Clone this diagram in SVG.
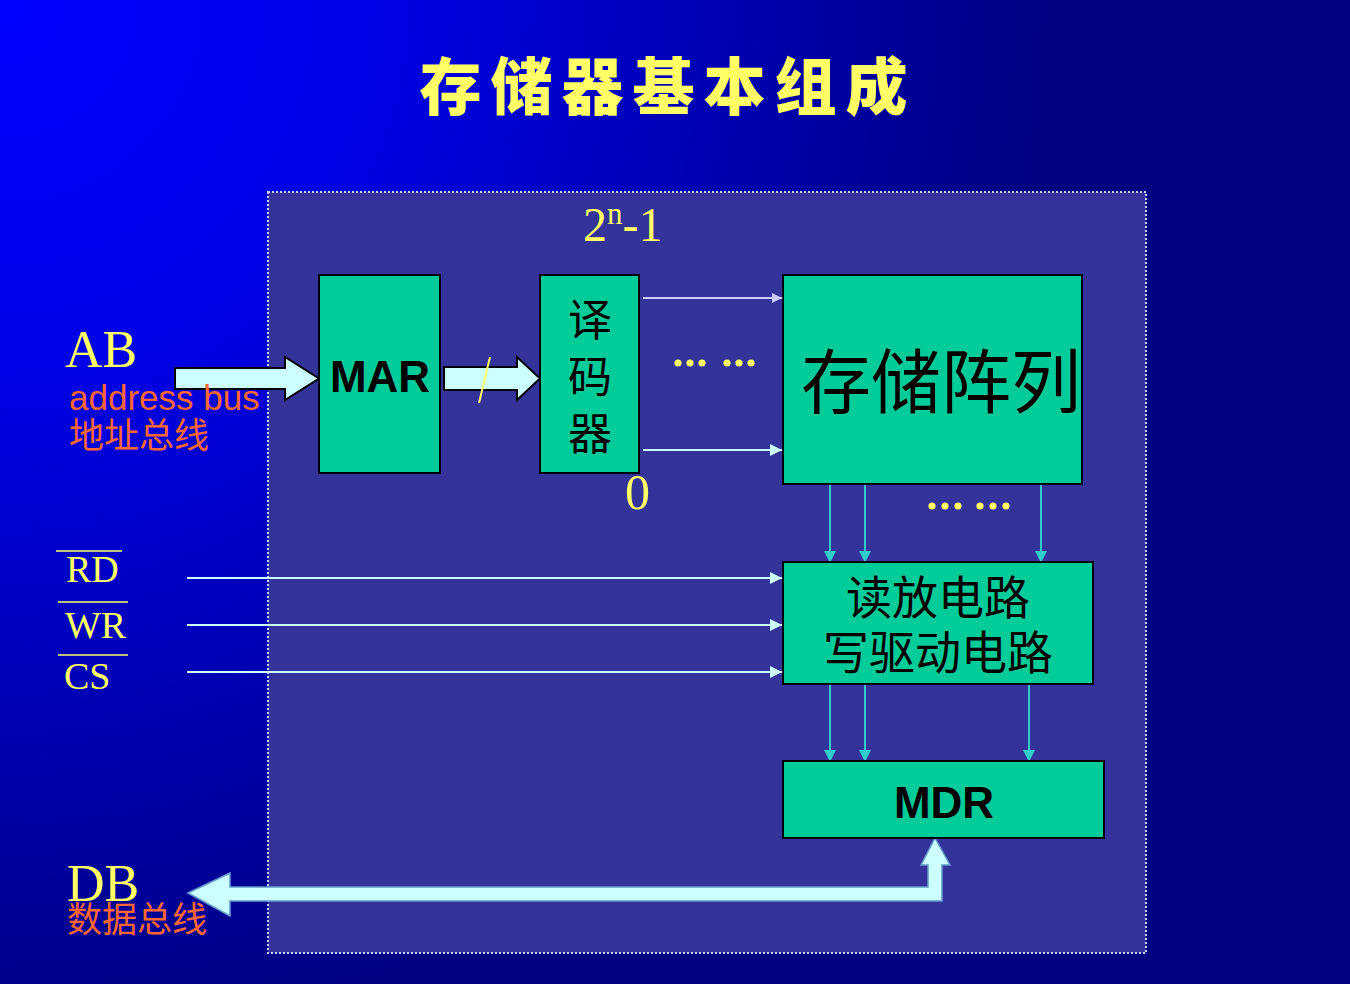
<svg xmlns="http://www.w3.org/2000/svg" width="1350" height="984" viewBox="0 0 1350 984">
<defs>
<radialGradient id="bg" cx="0" cy="0" r="1050" gradientUnits="userSpaceOnUse">
<stop offset="0" stop-color="#0000FF"/>
<stop offset="0.35" stop-color="#0000E6"/>
<stop offset="1" stop-color="#000080"/>
</radialGradient>
<marker id="ac" viewBox="0 0 10 10" refX="10" refY="5" markerWidth="18" markerHeight="12" orient="auto" markerUnits="userSpaceOnUse"><path d="M0,0 L10,5 L0,10 Z" fill="#CCFFFF"/></marker>
<marker id="al" viewBox="0 0 10 10" refX="10" refY="5" markerWidth="14" markerHeight="10" orient="auto" markerUnits="userSpaceOnUse"><path d="M0,0 L10,5 L0,10 Z" fill="#CCCCFF"/></marker>
<marker id="at" viewBox="0 0 10 10" refX="10" refY="5" markerWidth="14" markerHeight="12" orient="auto" markerUnits="userSpaceOnUse"><path d="M0,0 L10,5 L0,10 Z" fill="#33CCCC"/></marker>
<style>
.box{fill:#00CC99;stroke:#000;stroke-width:2}
.cn{font-family:"Noto Sans CJK SC","Noto Sans",sans-serif;fill:#000}
.bold{font-family:"Liberation Sans",Arial,sans-serif;font-weight:bold;fill:#000}
.tm{font-family:"Liberation Serif","Times New Roman",serif;fill:#FFFF66}
.or{font-family:"Liberation Sans","Noto Sans CJK SC",sans-serif;fill:#FF6633}
.blk{fill:#CCFFFF;stroke:#000;stroke-width:2}
.sig{stroke:#CCFFFF;stroke-width:2;fill:none}
.tl{stroke:#33CCCC;stroke-width:2;fill:none}
.dot{fill:#FFFF66}
</style>
</defs>
<rect width="1350" height="984" fill="url(#bg)"/>
<text x="668" y="110" text-anchor="middle" font-family="Noto Sans CJK SC,sans-serif" font-weight="900" font-size="62" letter-spacing="9" fill="#FFFF66">存储器基本组成</text>
<rect id="panel" x="268" y="192" width="878" height="761" fill="#333399" stroke="#CCCCFF" stroke-width="2" stroke-dasharray="2,2"/>

<g id="connectors">
<path class="blk" d="M175,368 L285,368 L285,357 L319,378.5 L285,400 L285,389 L175,389 Z"/>
<path class="blk" d="M444,367 L517,367 L517,357 L540,378.5 L517,400 L517,390 L444,390 Z"/>
<line x1="479" y1="403" x2="490" y2="357" stroke="#FFFF66" stroke-width="2"/>
<line x1="643" y1="298" x2="782" y2="298" stroke="#CCCCFF" stroke-width="2" marker-end="url(#al)"/>
<line x1="643" y1="450" x2="782" y2="450" stroke="#CCFFFF" stroke-width="2" marker-end="url(#ac)"/>
<line class="sig" x1="187" y1="578" x2="782" y2="578" marker-end="url(#ac)"/>
<line class="sig" x1="187" y1="625" x2="782" y2="625" marker-end="url(#ac)"/>
<line class="sig" x1="187" y1="672" x2="782" y2="672" marker-end="url(#ac)"/>
<line class="tl" x1="830" y1="485" x2="830" y2="563" marker-end="url(#at)"/>
<line class="tl" x1="865" y1="485" x2="865" y2="563" marker-end="url(#at)"/>
<line class="tl" x1="1041" y1="485" x2="1041" y2="563" marker-end="url(#at)"/>
<line class="tl" x1="830" y1="685" x2="830" y2="762" marker-end="url(#at)"/>
<line class="tl" x1="865" y1="685" x2="865" y2="762" marker-end="url(#at)"/>
<line class="tl" x1="1029" y1="685" x2="1029" y2="762" marker-end="url(#at)"/>
<path d="M188,893 L230,873 L230,887 L928,887 L928,865 L921,865 L935,838 L950,865 L942,865 L942,901 L230,901 L230,916 Z" fill="#CCFFFF" stroke="#6699CC" stroke-width="1.5"/>
</g>

<g id="dots1"><circle class="dot" cx="678" cy="363" r="3.6"/><circle class="dot" cx="690" cy="363" r="3.6"/><circle class="dot" cx="702" cy="363" r="3.6"/><circle class="dot" cx="727" cy="363" r="3.6"/><circle class="dot" cx="739" cy="363" r="3.6"/><circle class="dot" cx="751" cy="363" r="3.6"/></g>
<g id="dots2"><circle class="dot" cx="932" cy="506" r="3.6"/><circle class="dot" cx="945" cy="506" r="3.6"/><circle class="dot" cx="958" cy="506" r="3.6"/><circle class="dot" cx="980" cy="506" r="3.6"/><circle class="dot" cx="993" cy="506" r="3.6"/><circle class="dot" cx="1006" cy="506" r="3.6"/></g>

<g id="mar"><rect class="box" x="319" y="275" width="121" height="198"/><text class="bold" x="380" y="392" text-anchor="middle" font-size="44">MAR</text></g>
<g id="decoder"><rect class="box" x="540" y="275" width="99" height="198"/>
<text class="cn" x="590" y="336" text-anchor="middle" font-size="44">译</text>
<text class="cn" x="590" y="393" text-anchor="middle" font-size="44">码</text>
<text class="cn" x="590" y="450" text-anchor="middle" font-size="44">器</text></g>
<g id="array"><rect class="box" x="783" y="275" width="299" height="209"/><text class="cn" x="941" y="408" text-anchor="middle" font-size="70">存储阵列</text></g>
<g id="rw"><rect class="box" x="783" y="562" width="310" height="122"/>
<text class="cn" x="938" y="614" text-anchor="middle" font-size="46">读放电路</text>
<text class="cn" x="938" y="669" text-anchor="middle" font-size="46">写驱动电路</text></g>
<g id="mdr"><rect class="box" x="783" y="761" width="321" height="77"/><text class="bold" x="944" y="818" text-anchor="middle" font-size="44">MDR</text></g>

<g id="labels">
<text class="tm" x="583" y="241" font-size="48">2<tspan font-size="31" dy="-17">n</tspan><tspan dy="17">-1</tspan></text>
<text class="tm" x="625" y="509" font-size="50">0</text>
<text class="tm" x="65" y="367" font-size="52">AB</text>
<text class="or" x="69" y="410" font-size="35">address bus</text>
<text class="or" x="69" y="448" font-size="35">地址总线</text>
<text class="tm" x="66" y="582" font-size="38">RD</text>
<line x1="56" y1="551" x2="122" y2="551" stroke="#FFFF66" stroke-width="1.5"/>
<text class="tm" x="65" y="638" font-size="38">WR</text>
<line x1="58" y1="602" x2="128" y2="602" stroke="#FFFF66" stroke-width="1.5"/>
<text class="tm" x="64" y="689" font-size="38">CS</text>
<line x1="58" y1="655" x2="128" y2="655" stroke="#FFFF66" stroke-width="1.5"/>
<text class="tm" x="67" y="901" font-size="52">DB</text>
<text class="or" x="67" y="932" font-size="35">数据总线</text>
</g>
</svg>
